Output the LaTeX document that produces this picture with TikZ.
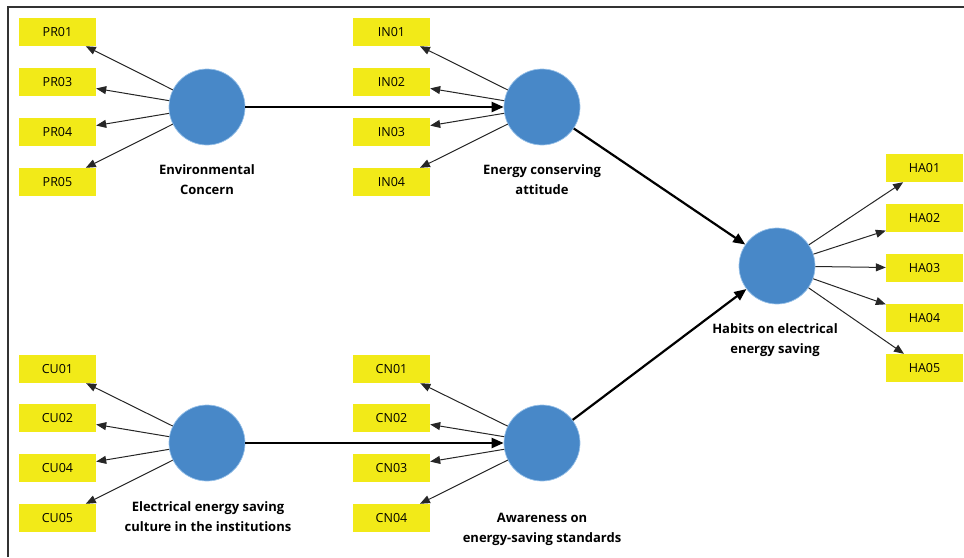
\documentclass[tikz,border=0pt]{standalone}
\usepackage{fontspec}
\setmainfont{Open Sans}
\usetikzlibrary{arrows.meta}
\definecolor{indyellow}{RGB}{242,234,24}
\definecolor{latblue}{RGB}{72,136,200}
\definecolor{latedge}{RGB}{150,192,232}
\definecolor{framegray}{RGB}{50,50,50}

\begin{document}
\begin{tikzpicture}[
  x=1pt, y=-1pt,
  ind/.style={fill=indyellow, minimum width=77pt, minimum height=28pt,
              inner sep=0pt, font=\fontsize{12.5}{14}\selectfont},
  lat/.style={circle, fill=latblue, draw=latedge, line width=0.7pt,
              minimum size=76pt, inner sep=0pt},
  lbl/.style={font=\bfseries\fontsize{13}{20}\selectfont, align=center},
  iarr/.style={-{Triangle[length=10pt,width=8pt]}, line width=1pt, black!85},
  sarr/.style={-{Triangle[length=12pt,width=10pt]}, line width=2.2pt, black}
]
\useasboundingbox (0,0) rectangle (964,557);

%% Frame
\draw[framegray, line width=1.6pt] (8,557) -- (8,7) -- (964,7);

%% Latent variables
\node[lat](env) at (207,107){};
\node[lat](att) at (542,107){};
\node[lat](cul) at (207,443){};
\node[lat](awa) at (542,443){};
\node[lat](hab) at (777,266){};

%% Latent labels
\node[lbl](envl) at (207,180) {Environmental\\Concern};
\node[lbl](attl) at (542,180) {Energy conserving\\attitude};
\node[lbl](habl) at (775,340) {Habits on electrical\\energy saving};
\node[lbl](cull) at (208,517) {Electrical energy saving\\culture in the institutions};
\node[lbl](awal) at (542,529) {Awareness on\\energy-saving standards};

%% Indicators
\foreach \nm/\y in {PR01/32, PR03/82, PR04/132, PR05/182}{
  \node[ind](\nm) at (57.5,\y){\nm};
  \draw[iarr] (env) -- (\nm);
}
\foreach \nm/\y in {IN01/32, IN02/82, IN03/132, IN04/182}{
  \node[ind](\nm) at (391.5,\y){\nm};
  \draw[iarr] (att) -- (\nm);
}
\foreach \nm/\y in {CU01/369, CU02/418, CU04/468, CU05/518}{
  \node[ind](\nm) at (57.5,\y){\nm};
  \draw[iarr] (cul) -- (\nm);
}
\foreach \nm/\y in {CN01/369, CN02/418, CN03/468, CN04/518}{
  \node[ind](\nm) at (391.5,\y){\nm};
  \draw[iarr] (awa) -- (\nm);
}
\foreach \nm/\y in {HA01/168, HA02/218, HA03/268, HA04/318, HA05/368}{
  \node[ind](\nm) at (924.5,\y){\nm};
  \draw[iarr] (hab) -- (\nm);
}

%% Structural paths
\draw[sarr] (env) -- (att);
\draw[sarr] (cul) -- (awa);
\draw[sarr] (att) -- (hab);
\draw[sarr] (awa) -- (hab);
\end{tikzpicture}
\end{document}
